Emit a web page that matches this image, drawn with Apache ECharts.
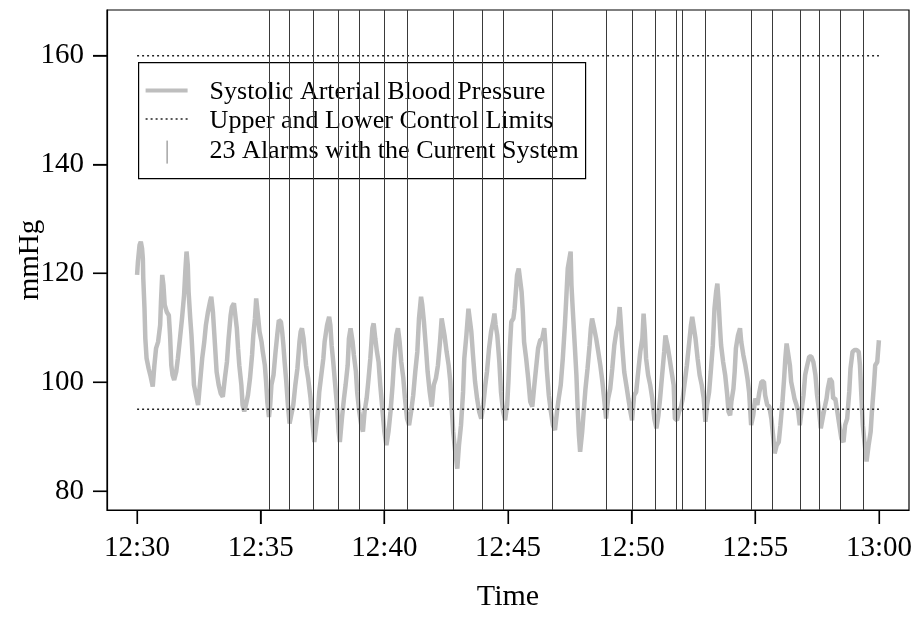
<!DOCTYPE html>
<html>
<head>
<meta charset="utf-8">
<script src="https://cdn.jsdelivr.net/npm/echarts@6/dist/echarts.min.js"></script>
<style>
  html, body { margin: 0; padding: 0; background: #fff; }
  #chart { width: 919px; height: 617px; }
</style>
</head>
<body>
<div id="chart"></div>
<script>
// seconds after 12:30
const bpSeconds = [
  0,2,6,9,12,14,15,18,20,23,28,33,38,42,46,51,56,58,61,64,67,72,77,80,83,86,90,95,99,104,109,114,117,120,123,125,129,132,135,138,
  143,148,153,158,163,167,172,177,180,184,187,190,193,198,203,208,213,218,222,227,230,235,239,242,245,248,253,256,260,264,269,274,
  279,282,286,289,292,294,297,302,305,310,313,316,320,323,326,331,336,340,344,349,352,355,358,362,366,370,374,379,384,389,394,397,
  400,404,407,410,415,421,426,430,434,439,442,447,452,
  455,461,466,469,472,476,480,485,489,492,497,502,506,511,514,518,523,526,531,534,539,544,548,552,557,561,566,571,574,578,582,586,
  590,595,600,605,610,615,620,624,629,633,637,641,646,650,655,660,665,670,675,680,684,689,692,696,701,705,710,715,720,725,730,735,
  739,743,746,751,756,760,764,767,772,777,781,786,791,794,799,804,807,811,815,820,825,830,835,840,845,849,854,859,864,867,870,874,
  879,883,888,893,898,901,904,908,913,916,919,922,926,
  928,933,936,939,944,949,954,959,964,968,973,978,983,988,991,994,999,1004,1009,1014,1019,1023,1028,1033,1038,1041,1045,1049,1052,
  1054,1057,1062,1066,1069,1072,1075,1080,1083,1088,1093,1098,1101,1104,1109,1114,1119,1124,1129,1134,1138,1143,1148,1153,1158,
  1163,1167,1171,1174,1177,1182,1187,1192,1197,1201,1206,1211,1216,1221,1226,1229,1232,1235,1240,1245,1250,1255,1260,1265,1269,
  1274,1279,1282,1287,1292,1297,1302,1305,1310,1315,1320,1324,1329,1334,1339,1344,1347,1350,1355,1360,1365,1370,1375,1379,1383,
  1388,1392,1397,
  1401,1405,1408,1411,1414,1417,1422,1427,1432,1435,1439,1442,1447,1450,1453,1458,1463,1466,1471,1476,1481,1485,1490,1495,1500,
  1505,1510,1515,1521,1524,1529,1534,1539,1544,1547,1552,1557,1561,1566,1570,1573,1576,1579,1584,1587,1592,1595,1600,1604,1608,
  1612,1617,1621,1626,1631,1636,1641,1646,1650,1655,1659,1663,1668,1673,1676,1681,1686,1689,1694,1699,1704,1709,1714,1718,1723,
  1728,1731,1736,1741,1746,1751,1754,1757,1761,1765,1770,1775,1780,1783,1788,1791,1796,1800
];
const bpMmHg = [
  119.7,122.1,125.2,125.8,124.6,122.7,119.1,113.5,108.0,104.4,102.5,101.0,99.2,103.1,106.2,107.4,110.5,114.8,119.7,117.8,114.2,
  112.9,112.3,108.6,103.1,101.3,100.4,101.9,104.4,108.0,111.7,116.0,120.3,124.0,121.5,116.6,111.7,108.6,104.4,99.5,
  97.6,95.8,100.1,104.4,107.4,110.5,112.9,114.8,115.7,112.9,109.3,105.6,101.9,99.5,97.9,97.3,100.7,103.7,108.0,112.3,113.8,114.5,
  114.2,109.9,106.2,103.1,99.5,95.8,94.6,95.8,97.6,100.7,
  105.0,108.6,111.7,115.4,115.7,111.7,109.3,107.4,105.6,103.1,100.1,96.4,93.6,95.8,99.5,101.3,105.6,108.6,111.4,111.1,109.3,106.8,
  103.7,100.1,95.8,92.4,92.1,95.8,99.5,102.5,107.4,109.3,
  109.9,108.0,105.6,103.1,100.7,97.0,92.1,89.0,91.5,94.6,98.2,101.3,104.4,
  107.4,110.5,112.0,110.5,106.8,103.7,100.1,95.8,90.9,89.0,93.3,97.0,99.5,103.1,108.0,109.9,107.4,105.0,101.9,98.2,94.6,92.1,90.9,
  94.6,97.0,100.1,104.4,109.9,110.8,108.0,105.6,103.7,
  99.5,95.2,90.9,88.4,90.9,94.6,99.5,104.4,108.6,109.9,107.4,103.7,100.7,97.0,93.3,92.1,94.6,97.6,101.9,105.6,111.7,115.7,114.2,
  111.1,106.2,101.9,98.2,95.5,99.5,100.7,103.1,107.4,
  111.7,112.0,108.6,105.6,103.1,100.1,94.6,90.9,87.2,84.1,88.4,92.1,98.2,104.4,108.6,113.5,111.7,109.3,105.0,100.1,97.0,94.6,93.3,
  95.8,99.5,101.9,106.2,109.3,111.1,112.6,110.5,108.6,
  103.7,98.2,94.6,93.0,95.8,100.1,105.6,111.1,111.7,113.5,116.6,119.7,120.9,
  120.9,116.6,112.9,107.4,104.4,100.7,96.4,95.5,99.5,102.5,106.2,107.7,108.0,109.9,106.8,102.5,97.6,94.6,92.1,91.2,94.6,97.0,99.5,
  104.4,110.5,114.8,120.9,122.7,124.0,
  117.8,113.5,106.8,101.3,95.2,90.3,87.2,90.9,93.9,98.8,102.5,106.8,109.9,111.7,109.9,108.0,105.6,103.1,100.1,96.4,93.3,97.0,98.8,
  102.5,106.8,
  109.3,110.5,113.8,110.5,106.8,101.9,99.5,97.0,94.6,93.0,97.6,98.2,101.9,105.6,108.0,112.6,109.3,104.4,101.3,99.5,97.0,93.3,91.5,
  93.9,97.0,
  101.3,105.6,108.6,106.8,104.4,101.9,99.5,93.3,93.0,94.6,95.5,97.0,100.1,103.1,106.8,110.5,112.0,110.5,108.0,104.4,101.3,99.5,97.0,
  92.7,95.8,
  98.2,101.9,106.8,
  113.5,116.6,118.1,114.8,110.5,106.8,103.7,101.3,97.6,94.6,93.9,96.4,98.8,101.9,106.2,108.6,109.9,107.4,105.0,103.1,100.7,98.2,
  92.1,93.9,97.0,
  95.8,98.2,100.1,100.1,97.6,95.8,95.5,93.3,89.6,86.9,88.4,89.0,92.1,96.4,100.7,104.4,107.1,105.6,103.1,100.1,98.2,97.0,95.8,94.6,
  92.1,
  94.6,97.6,101.3,103.1,104.7,104.7,103.7,101.3,97.6,94.6,91.5,91.2,95.2,97.0,98.8,100.7,100.1,97.0,97.0,94.6,92.1,89.6,89.0,92.1,
  93.3,
  98.2,102.5,105.6,105.9,105.9,105.6,103.1,98.2,92.1,89.0,85.4,88.4,90.9,94.6,99.5,103.1,103.7,107.7
];

const alarmSeconds = [319,368,426,488,539,598,656,767,836,889,1006,1138,1202,1256,1308,1321,1379,1489,1541,1609,1654,1705,1762];

const upperLimit = 160;
const lowerLimit = 95;
const limitSpan = [0, 1800];

const xTicks = [0, 300, 600, 900, 1200, 1500, 1800];
const yTicks = [80, 100, 120, 140, 160];

const legendNames = [
  'Systolic Arterial Blood Pressure',
  'Upper and Lower Control Limits',
  '23 Alarms with the Current System'
];

const FONT = '"Liberation Serif", "Times New Roman", serif';
const X_MIN = -73, X_MAX = 1873, Y_MIN = 76.5, Y_MAX = 168.4;
const GRID = {left: 107, right: 10, top: 10, bottom: 107};
const TICK_LEN = 14;

const chart = echarts.init(document.getElementById('chart'), null, {renderer: 'canvas'});

function clock(sec) {
  let m = 30 + Math.round(sec / 60);
  let h = 12;
  if (m >= 60) { m -= 60; h = 13; }
  return h + ':' + (m < 10 ? '0' + m : m);
}

const bpData = bpSeconds.map((t, i) => [t, bpMmHg[i]]);

const legendGroup = {
  type: 'group',
  left: 138, top: 62,
  children: [
    {type: 'rect', shape: {x: 0, y: 0, width: 447, height: 116}, style: {fill: '#fff', stroke: '#000', lineWidth: 1.2}},
    {type: 'line', shape: {x1: 7, y1: 28, x2: 49, y2: 28}, style: {stroke: '#bebebe', lineWidth: 4}},
    {type: 'line', shape: {x1: 7, y1: 56.5, x2: 49, y2: 56.5}, style: {stroke: '#222', lineWidth: 1.5, lineDash: [2, 3]}},
    {type: 'line', shape: {x1: 28.5, y1: 78, x2: 28.5, y2: 101}, style: {stroke: '#777', lineWidth: 1}},
    {type: 'text', x: 71, y: 30, style: {text: legendNames[0], font: '26px ' + FONT, fill: '#000', textVerticalAlign: 'middle'}},
    {type: 'text', x: 71, y: 59, style: {text: legendNames[1], font: '26px ' + FONT, fill: '#000', textVerticalAlign: 'middle'}},
    {type: 'text', x: 71, y: 89, style: {text: legendNames[2], font: '26px ' + FONT, fill: '#000', textVerticalAlign: 'middle'}}
  ]
};

const option = {
  animation: false,
  backgroundColor: '#fff',
  grid: Object.assign({containLabel: false, show: true, borderColor: '#000', borderWidth: 1.2, backgroundColor: 'transparent'}, GRID),
  xAxis: {
    type: 'value',
    min: X_MIN, max: X_MAX,
    name: 'Time',
    nameLocation: 'middle',
    nameGap: 72,
    nameMoveOverlap: false,
    nameTextStyle: {fontFamily: FONT, fontSize: 30, color: '#000'},
    axisLine: {show: true, onZero: false, lineStyle: {color: '#000', width: 1.2}},
    axisTick: {show: true, length: TICK_LEN, customValues: xTicks, lineStyle: {color: '#000', width: 1.2}},
    axisLabel: {customValues: xTicks, margin: 24, fontFamily: FONT, fontSize: 29, color: '#000', formatter: v => clock(v)},
    splitLine: {show: false}
  },
  yAxis: {
    type: 'value',
    min: Y_MIN, max: Y_MAX,
    name: 'mmHg',
    nameLocation: 'middle',
    nameGap: 62,
    nameMoveOverlap: false,
    nameRotate: 90,
    nameTextStyle: {fontFamily: FONT, fontSize: 29, color: '#000'},
    axisLine: {show: true, onZero: false, lineStyle: {color: '#000', width: 1.2}},
    axisTick: {show: true, length: TICK_LEN, customValues: yTicks, lineStyle: {color: '#000', width: 1.2}},
    axisLabel: {customValues: yTicks, margin: 23, fontFamily: FONT, fontSize: 29, color: '#000'},
    splitLine: {show: false}
  },
  series: [
    {
      name: legendNames[0],
      type: 'line',
      data: bpData,
      showSymbol: false,
      symbol: 'none',
      lineStyle: {color: '#bebebe', width: 4.5},
      z: 2,
      silent: true
    },
    {
      name: legendNames[1],
      type: 'line',
      data: limitSpan.map(t => [t, upperLimit]),
      symbol: 'none',
      lineStyle: {color: '#222', width: 1.5, type: [2, 3]},
      z: 3,
      silent: true
    },
    {
      name: legendNames[1],
      type: 'line',
      data: limitSpan.map(t => [t, lowerLimit]),
      symbol: 'none',
      lineStyle: {color: '#222', width: 1.5, type: [2, 3]},
      z: 3,
      silent: true
    },
    {
      name: legendNames[2],
      type: 'custom',
      data: alarmSeconds.map(t => [t, lowerLimit]),
      z: 4,
      silent: true,
      renderItem: function (params, api) {
        const x = Math.round(api.coord([api.value(0), api.value(1)])[0]) + 0.5;
        const cs = params.coordSys;
        return {
          type: 'line',
          shape: {x1: x, y1: cs.y, x2: x, y2: cs.y + cs.height},
          style: {stroke: '#3a3a3a', lineWidth: 1}
        };
      }
    }
  ],
  graphic: [legendGroup]
};

chart.setOption(option);

// value -> pixel through the chart, with a plain linear fallback on the same grid
function toPixel(pt) {
  let p = null;
  try { p = chart.convertToPixel({seriesIndex: 0}, pt); } catch (e) { p = null; }
  if (!p || !isFinite(p[0]) || !isFinite(p[1])) {
    const w = 919 - GRID.left - GRID.right, h = 617 - GRID.top - GRID.bottom;
    p = [GRID.left + (pt[0] - X_MIN) / (X_MAX - X_MIN) * w,
         GRID.top + (Y_MAX - pt[1]) / (Y_MAX - Y_MIN) * h];
  }
  return p;
}

// outward tick marks as filled bars, drawn above everything
const ticks = [];
xTicks.forEach(v => {
  const p = toPixel([v, Y_MIN]);
  ticks.push({type: 'rect', z: 200, zlevel: 1, shape: {x: Math.round(p[0]) - 0.5, y: Math.round(p[1]), width: 1.3, height: TICK_LEN}, style: {fill: '#000'}});
});
yTicks.forEach(v => {
  const p = toPixel([X_MIN, v]);
  ticks.push({type: 'rect', z: 200, zlevel: 1, shape: {x: Math.round(p[0]) - TICK_LEN, y: Math.round(p[1]) - 0.5, width: TICK_LEN, height: 1.3}, style: {fill: '#000'}});
});
chart.setOption({graphic: [legendGroup].concat(ticks)});
</script>
</body>
</html>
